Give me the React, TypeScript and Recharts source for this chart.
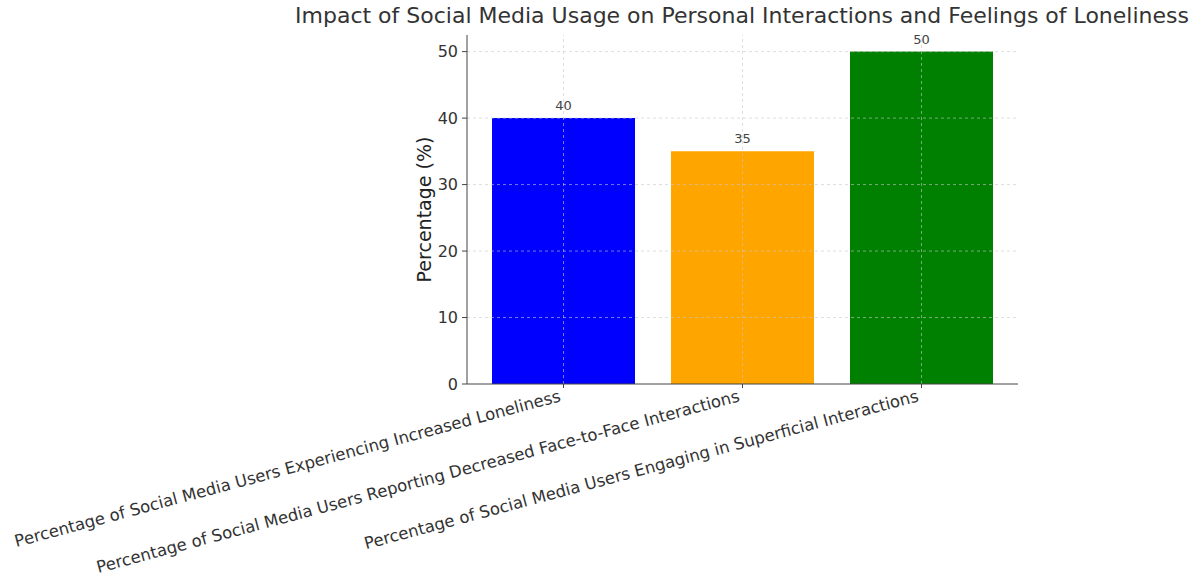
import { BarChart, Bar, XAxis, YAxis, Cell, LabelList, ReferenceLine } from 'recharts';

const categories = [
  'Percentage of Social Media Users Experiencing Increased Loneliness',
  'Percentage of Social Media Users Reporting Decreased Face-to-Face Interactions',
  'Percentage of Social Media Users Engaging in Superficial Interactions',
];
const percentages = [40, 35, 50];
const barColors = ['#0000ff', '#ffa500', '#008000'];
const yTicks = [0, 10, 20, 30, 40, 50];

const chartData = categories.map((name, i) => ({
  name,
  value: percentages[i],
  color: barColors[i],
}));

const FONT = 'DejaVu Sans, sans-serif';
const GRID = { stroke: '#c8c8c8', strokeOpacity: 0.6, strokeDasharray: '3 3' };

function RotatedTick(props: any) {
  const { x, y, payload } = props;
  const ax = x - 2;
  const ay = y + 11;
  return (
    <text
      x={ax}
      y={ay}
      transform={`rotate(-15, ${ax}, ${ay})`}
      textAnchor="end"
      fontFamily={FONT}
      fontSize={16.5}
      fill="#333"
    >
      {payload.value}
    </text>
  );
}

function YLabel(props: any) {
  const { viewBox } = props;
  const cx = viewBox.x + viewBox.width - 42;
  const cy = viewBox.y + viewBox.height / 2;
  return (
    <text
      x={cx}
      y={cy}
      transform={`rotate(-90, ${cx}, ${cy})`}
      textAnchor="middle"
      dominantBaseline="middle"
      fontFamily={FONT}
      fontSize={19}
      fill="#222"
    >
      Percentage (%)
    </text>
  );
}

export default function App() {
  return (
    <div style={{ position: 'absolute', left: 0, top: 0, width: 1203, height: 582, background: '#fff' }}>
      <div
        style={{
          position: 'absolute',
          left: 242,
          top: 3,
          width: 1000,
          textAlign: 'center',
          fontFamily: FONT,
          fontSize: 22,
          color: '#333',
          whiteSpace: 'nowrap',
        }}
      >
        Impact of Social Media Usage on Personal Interactions and Feelings of Loneliness
      </div>
      <BarChart
        width={1203}
        height={582}
        data={chartData}
        margin={{ top: 35, right: 185, bottom: 0, left: 0 }}
        barCategoryGap={0}
      >
        <XAxis
          dataKey="name"
          height={198}
          padding={{ left: 7, right: 7 }}
          interval={0}
          tick={<RotatedTick />}
          tickSize={4}
          axisLine={{ stroke: '#444' }}
          tickLine={{ stroke: '#444' }}
        />
        <YAxis
          width={467}
          domain={[0, 52.5]}
          ticks={yTicks}
          tickSize={5}
          tickMargin={4}
          axisLine={{ stroke: '#444' }}
          tickLine={{ stroke: '#444' }}
          tick={{ fill: '#333', fontSize: 16, fontFamily: FONT }}
          label={<YLabel />}
        />
        <Bar dataKey="value" barSize={143} isAnimationActive={false}>
          {chartData.map((d) => (
            <Cell key={d.name} fill={d.color} />
          ))}
          <LabelList dataKey="value" position="top" offset={8} fontSize={13} fill="#444" fontFamily={FONT} />
        </Bar>
        {yTicks.slice(1).map((t) => (
          <ReferenceLine key={`h${t}`} y={t} {...GRID} />
        ))}
        {categories.map((c) => (
          <ReferenceLine key={`v${c}`} x={c} {...GRID} />
        ))}
      </BarChart>
    </div>
  );
}
